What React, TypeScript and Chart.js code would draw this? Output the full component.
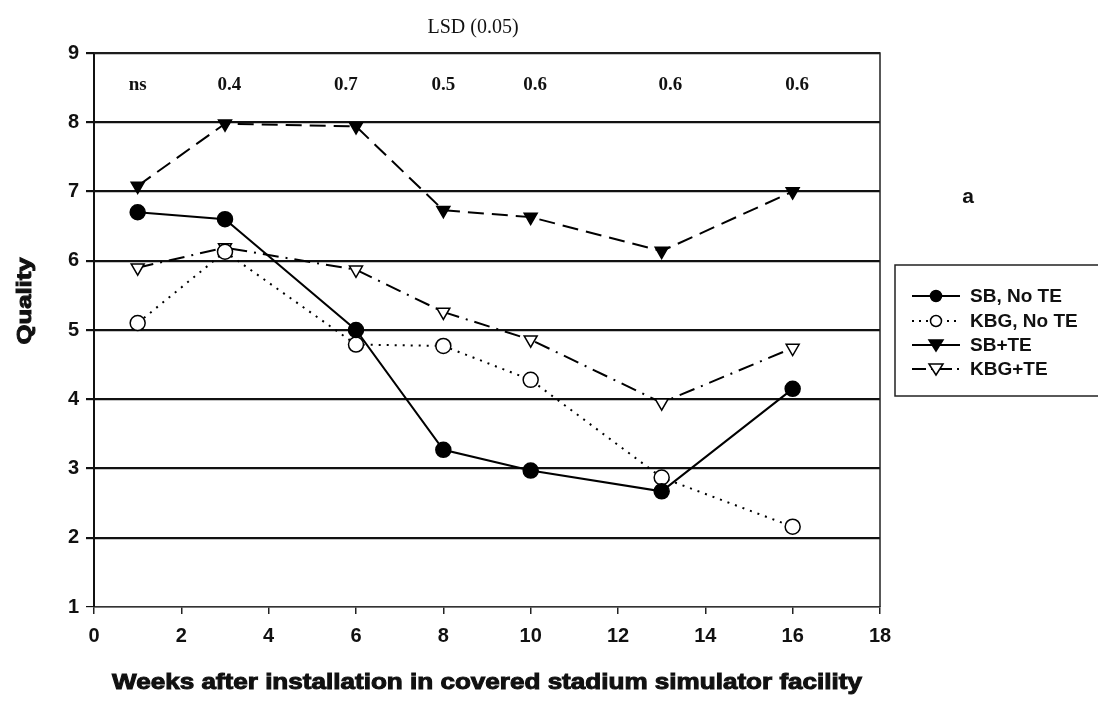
import React, { useEffect, useRef } from "react";
import { Chart, registerables } from "chart.js";

Chart.register(...registerables);

const weeks = [1, 3, 6, 8, 10, 13, 16];
const sbNoTE = [6.7, 6.6, 5.0, 3.27, 2.97, 2.67, 4.15];
const kbgNoTE = [5.1, 6.13, 4.79, 4.77, 4.28, 2.87, 2.16];
const sbTE = [7.08, 7.98, 7.94, 6.73, 6.63, 6.14, 7.0];
const kbgTE = [5.9, 6.19, 5.87, 5.26, 4.86, 3.95, 4.74];
const lsdLabels = ["ns", "0.4", "0.7", "0.5", "0.6", "0.6", "0.6"];
const lsdPos = [1.0, 3.1, 5.77, 8.0, 10.1, 13.2, 16.1];
const seriesNames = ["SB, No TE", "KBG, No TE", "SB+TE", "KBG+TE"];
const xTitle = "Weeks after installation in covered stadium simulator facility";
const yTitle = "Quality";

const SANS = "'Liberation Sans', Arial, sans-serif";
const SERIF = "'Liberation Serif', 'Times New Roman', serif";

const toPts = (ys: number[]) => weeks.map((w, i) => ({ x: w, y: ys[i] }));

const styles = [
  { dash: [] as number[], style: "circle", fill: "#000", rot: 0 },
  { dash: [2, 6], style: "circle", fill: "#fff", rot: 0 },
  { dash: [16, 8], style: "triangle", fill: "#000", rot: 180 },
  { dash: [16, 7, 2, 7], style: "triangle", fill: "#fff", rot: 180 },
];

function wideText(ctx: CanvasRenderingContext2D, text: string, cx: number, cy: number, width: number, font: string, rot: number) {
  ctx.save();
  ctx.font = font;
  const w = ctx.measureText(text).width;
  ctx.translate(cx, cy);
  ctx.rotate(rot);
  ctx.scale(width / w, 1);
  ctx.textAlign = "center";
  ctx.textBaseline = "middle";
  ctx.fillStyle = "#111";
  ctx.strokeStyle = "#111";
  ctx.lineWidth = 1;
  ctx.fillText(text, 0, 0);
  ctx.strokeText(text, 0, 0);
  ctx.restore();
}

const extras = {
  id: "extras",
  afterDraw(chart: any) {
    const { ctx, chartArea: a, scales } = chart;
    const xs = scales.x;
    ctx.save();
    // box top/right
    ctx.strokeStyle = "#222";
    ctx.lineWidth = 1.5;
    ctx.beginPath();
    ctx.moveTo(a.left, a.top);
    ctx.lineTo(a.right, a.top);
    ctx.lineTo(a.right, a.bottom);
    ctx.stroke();
    // axis titles
    wideText(ctx, xTitle, 487, 683, 750, `bold 22px ${SANS}`, 0);
    wideText(ctx, yTitle, 25, 301, 87, `bold 20px ${SANS}`, -Math.PI / 2);
    // LSD title
    ctx.fillStyle = "#111";
    ctx.textAlign = "center";
    ctx.textBaseline = "middle";
    ctx.font = `20px ${SERIF}`;
    ctx.fillText("LSD (0.05)", 473, 28);
    ctx.font = `bold 19px ${SERIF}`;
    lsdLabels.forEach((l, i) => {
      ctx.fillText(l, xs.getPixelForValue(lsdPos[i]), 85);
    });
    // "a"
    ctx.font = `bold 21px ${SANS}`;
    ctx.fillText("a", 968, 197);
    // legend box
    ctx.strokeStyle = "#222";
    ctx.lineWidth = 1.5;
    ctx.strokeRect(895, 265, 220, 131);
    ctx.textAlign = "left";
    ctx.font = `bold 19px ${SANS}`;
    const rows = [296, 321, 345, 369];
    styles.forEach((s, i) => {
      const y = rows[i];
      ctx.strokeStyle = "#000";
      ctx.lineWidth = 2;
      ctx.setLineDash(i === 3 ? [14, 5, 2, 5] : i === 1 ? [2, 5] : []);
      ctx.beginPath();
      ctx.moveTo(912, y);
      ctx.lineTo(960, y);
      ctx.stroke();
      ctx.setLineDash([]);
      ctx.fillStyle = s.fill;
      ctx.lineWidth = 1.5;
      ctx.beginPath();
      if (s.style === "circle") {
        ctx.arc(936, y, 5.5, 0, Math.PI * 2);
      } else {
        ctx.moveTo(929, y - 5);
        ctx.lineTo(943, y - 5);
        ctx.lineTo(936, y + 6);
        ctx.closePath();
      }
      ctx.fill();
      ctx.stroke();
      ctx.fillStyle = "#111";
      ctx.fillText(seriesNames[i], 970, y + 1);
    });
    ctx.restore();
  },
};

export default function App() {
  const ref = useRef<HTMLCanvasElement>(null);
  useEffect(() => {
    if (!ref.current) return;
    const datasets = [sbNoTE, kbgNoTE, sbTE, kbgTE].map((ys, i) => ({
      label: seriesNames[i],
      data: toPts(ys),
      borderColor: "#000",
      borderWidth: 2,
      borderDash: styles[i].dash,
      pointStyle: styles[i].style as any,
      pointRotation: styles[i].rot,
      pointRadius: 7.5,
      pointBackgroundColor: styles[i].fill,
      pointBorderColor: "#000",
      pointBorderWidth: 1.5,
      tension: 0,
      fill: false,
    }));
    const chart = new Chart(ref.current, {
      type: "line",
      data: { datasets },
      plugins: [extras],
      options: {
        animation: false,
        responsive: false,
        events: [],
        layout: { padding: { left: 0, right: 218, top: 53, bottom: 0 } },
        plugins: { legend: { display: false }, tooltip: { enabled: false } },
        scales: {
          x: {
            type: "linear",
            min: 0,
            max: 18,
            afterFit: (s: any) => {
              s.height = 95;
            },
            ticks: {
              stepSize: 2,
              color: "#111",
              font: { family: SANS, size: 20, weight: "bold" },
              padding: 10,
            },
            grid: {
              drawOnChartArea: false,
              drawTicks: true,
              tickLength: 7,
              color: "#222",
              lineWidth: 1.5,
            },
            border: { display: true, color: "#333", width: 1.5 },
            title: { display: false },
          },
          y: {
            min: 1,
            max: 9,
            afterFit: (s: any) => {
              s.width = 94;
            },
            ticks: {
              stepSize: 1,
              color: "#111",
              font: { family: SANS, size: 20, weight: "bold" },
              padding: 7,
            },
            grid: {
              color: "#111",
              lineWidth: (c: any) => (c.tick && c.tick.value === 1 ? 1.2 : 2.2),
              tickLength: 8,
            },
            border: { display: true, color: "#111", width: 2 },
            title: { display: false },
          },
        },
      },
    });
    return () => chart.destroy();
  }, []);
  return (
    <div style={{ position: "fixed", left: 0, top: 0, width: 1098, height: 702, background: "#fff" }}>
      <canvas ref={ref} width={1098} height={702} style={{ width: 1098, height: 702 }} />
    </div>
  );
}
